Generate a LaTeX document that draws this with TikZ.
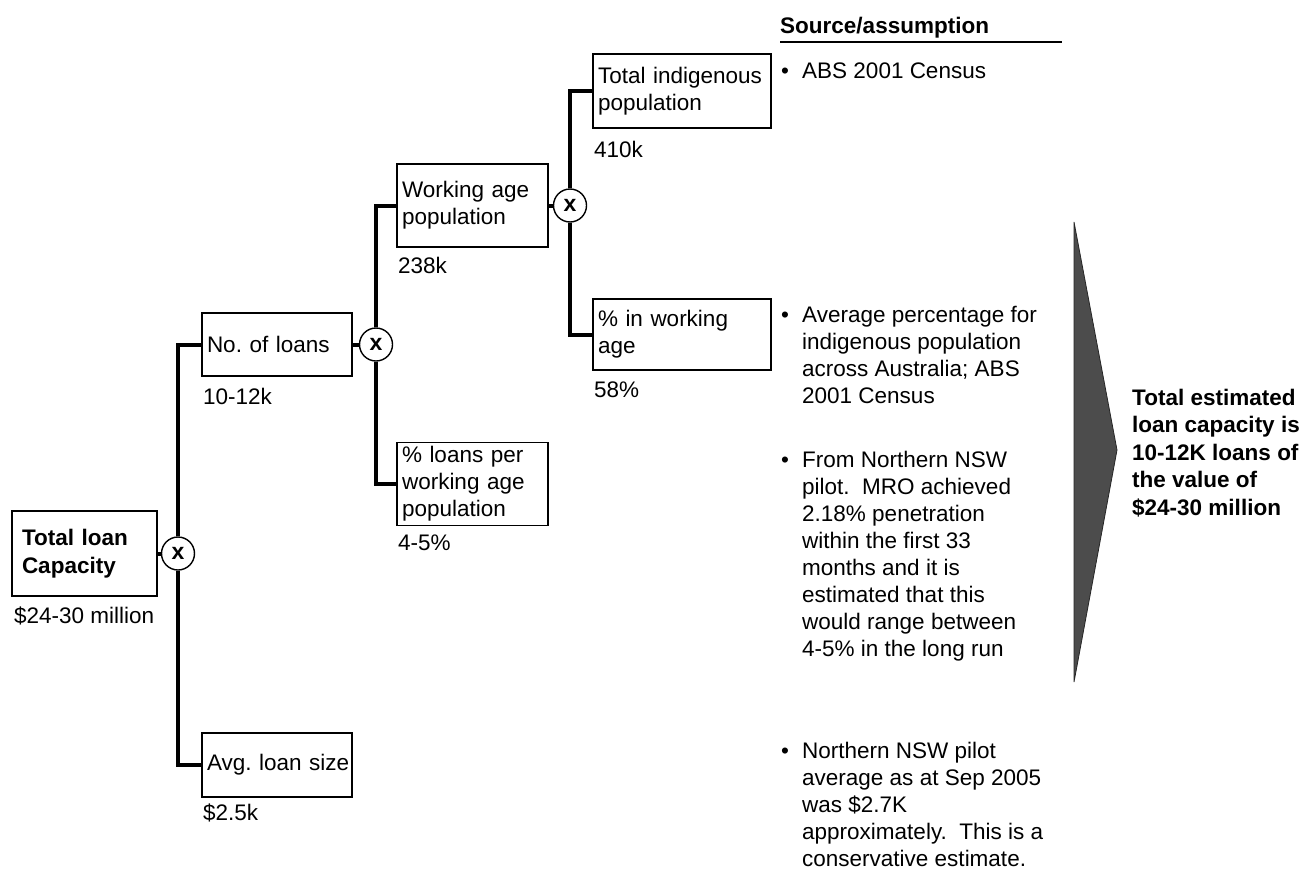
\documentclass[tikz,border=0pt]{standalone}
\usepackage{fontspec}
\setmainfont{Liberation Sans}
\newcommand{\bodysize}{\fontsize{22.5}{27}\selectfont\frenchspacing}
\begin{document}
\frenchspacing
\begin{tikzpicture}[x=1pt,y=-1pt,
  every node/.style={font=\bodysize},
  box/.style={draw, line width=1.2pt, inner xsep=5pt, inner ysep=0pt, align=left},
  mult/.style={circle, draw, line width=1.4pt, minimum size=33pt, inner sep=0pt,
    fill=white, font=\bfseries\fontsize{23}{23}\selectfont},
  link/.style={line width=4pt},
  val/.style={anchor=base west, inner sep=0pt},
  note/.style={anchor=base west, inner sep=0pt},
  boldtext/.style={font=\bfseries\fontsize{22.5}{27.5}\selectfont\frenchspacing}]
\useasboundingbox (0,0) rectangle (1303,870);

% ---- tree boxes ----
\node[box, boldtext, inner xsep=9pt, minimum width=145pt, minimum height=85pt, text width=125pt]
  (tlc) at (84.5,553.5) {Total loan\\Capacity};
\node[mult] (m1) at (178,553.5) {x};

\node[box, inner xsep=5pt, minimum width=150pt, minimum height=63pt, text width=140pt]
  (nol) at (277,344.5) {\mbox{No. of loans}};
\node[box, inner xsep=5pt, minimum width=150pt, minimum height=64pt, text width=140pt]
  (als) at (277,765) {\mbox{Avg. loan size}};
\node[mult] (m2) at (376,344.5) {x};

\node[box, minimum width=151pt, minimum height=83pt, text width=141pt]
  (wap) at (472.5,205.5) {Working age\\population};
\node[box, minimum width=151pt, minimum height=83pt, text width=141pt]
  (plw) at (472.5,484) {\% loans per\\working age\\population};
\node[mult] (m3) at (570,205.5) {x};

\node[box, minimum width=178pt, minimum height=74pt, text width=168pt]
  (tip) at (682,91) {Total indigenous\\population};
\node[box, minimum width=178pt, minimum height=71pt, text width=168pt]
  (piw) at (682,334.5) {\% in working\\age};

% ---- values under the boxes ----
\node[val] (v1) at (14,623) {\$24-30 million};
\node[val] (v2) at (203,404) {10-12k};
\node[val] (v3) at (203,820) {\$2.5k};
\node[val] (v4) at (398,273) {238k};
\node[val] (v5) at (398,550) {4-5\%};
\node[val] (v6) at (594,157) {410k};
\node[val] (v7) at (594,397) {58\%};

% ---- connectors ----
\draw[link] (tlc.east) -- (m1.west);
\draw[link] (m1.north) |- (nol.west);
\draw[link] (m1.south) |- (als.west);
\draw[link] (nol.east) -- (m2.west);
\draw[link] (m2.north) |- (wap.west);
\draw[link] (m2.south) |- (plw.west);
\draw[link] (wap.east) -- (m3.west);
\draw[link] (m3.north) |- (tip.west);
\draw[link] (m3.south) |- (piw.west);

% ---- source / assumption column ----
\node[note, boldtext] (src) at (780,33) {Source/assumption};
\draw[line width=1.5pt] (780,42) -- (1062,42);

\node[note] (n1) at (781,78) {\begin{tabular}[t]{@{}p{21pt}@{}l@{}}\textbullet & ABS 2001 Census\end{tabular}};
\node[note] (n2) at (781,322) {\begin{tabular}[t]{@{}p{21pt}@{}l@{}}\textbullet & Average percentage for\\
  & indigenous population\\ & across Australia; ABS\\ & 2001 Census\end{tabular}};
\node[note] (n3) at (781,467) {\begin{tabular}[t]{@{}p{21pt}@{}l@{}}\textbullet & From Northern NSW\\
  & pilot.\ \ MRO achieved\\ & 2.18\% penetration\\ & within the first 33\\
  & months and it is\\ & estimated that this\\ & would range between\\
  & 4-5\% in the long run\end{tabular}};
\node[note] (n4) at (781,758) {\begin{tabular}[t]{@{}p{21pt}@{}l@{}}\textbullet & Northern NSW pilot\\
  & average as at Sep 2005\\ & was \$2.7K\\ & approximately.\ \ This is a\\
  & conservative estimate.\end{tabular}};

% ---- summary arrow and conclusion ----
\fill[black!70, draw=black!85, line width=0.8pt] (1074,222) -- (1117,450) -- (1074,682) -- cycle;
\node[note, boldtext] (res) at (1132,405) {\begin{tabular}[t]{@{}l@{}}Total estimated\\
  loan capacity is\\ 10-12K loans of\\ the value of\\ \$24-30 million\end{tabular}};
\end{tikzpicture}
\end{document}
